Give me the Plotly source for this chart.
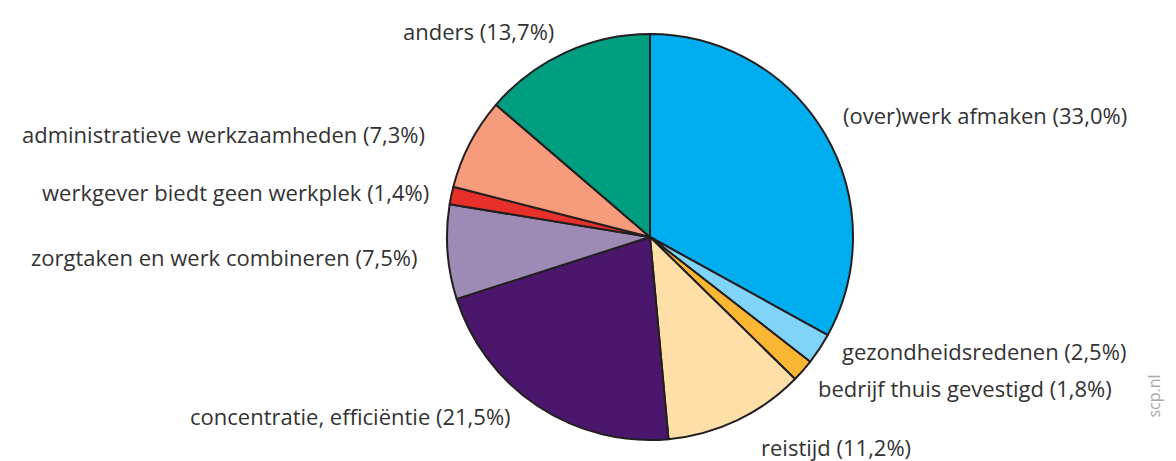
import plotly.graph_objects as go

labels = ["(over)werk afmaken", "gezondheidsredenen", "bedrijf thuis gevestigd", "reistijd",
          "concentratie, efficiëntie", "zorgtaken en werk combineren", "werkgever biedt geen werkplek",
          "administratieve werkzaamheden", "anders"]
values = [33.0, 2.5, 1.8, 11.2, 21.5, 7.5, 1.4, 7.3, 13.7]
colors = ["#00AEEF", "#80D4F7", "#FBB634", "#FEDFA8", "#4A176C", "#9E8BB5", "#E8302A", "#F79B7D", "#009E80"]

W, H = 1176, 461
cx, cy, r = 642, 229, 203

# label placement (pixels): x, y, anchor
label_pos = [(833, 107, "left"), (832, 343, "left"), (808, 380, "left"), (905, 439, "right"),
             (505, 408, "right"), (411, 249, "right"), (423, 184, "right"), (419, 126, "right"),
             (548, 23, "right")]

fig = go.Figure(go.Pie(
    labels=labels, values=values, sort=False, direction="clockwise", rotation=0,
    marker=dict(colors=colors, line=dict(color="#231F20", width=2)),
    textinfo="none", showlegend=False, hoverinfo="skip",
    domain=dict(x=[(cx - r) / W, (cx + r) / W], y=[(H - cy - r) / H, (H - cy + r) / H]),
))

annotations = []
for lab, val, (px, py, anc) in zip(labels, values, label_pos):
    annotations.append(dict(
        text=f"{lab} ({val:.1f}%)".replace(".", ","), x=px / W, y=(H - py) / H,
        xref="paper", yref="paper", xanchor=anc, yanchor="middle", showarrow=False,
        font=dict(family="Open Sans", size=22, color="#333333")))
annotations.append(dict(text="scp.nl", x=1158 / W, y=(H - 412) / H, xref="paper", yref="paper",
                        showarrow=False, textangle=-90,
                        font=dict(family="Open Sans", size=16, color="#AAAAAA")))

fig.update_layout(width=W, height=H, margin=dict(l=0, r=0, t=0, b=0),
                  paper_bgcolor="white", annotations=annotations)
fig.write_html("out.html")
